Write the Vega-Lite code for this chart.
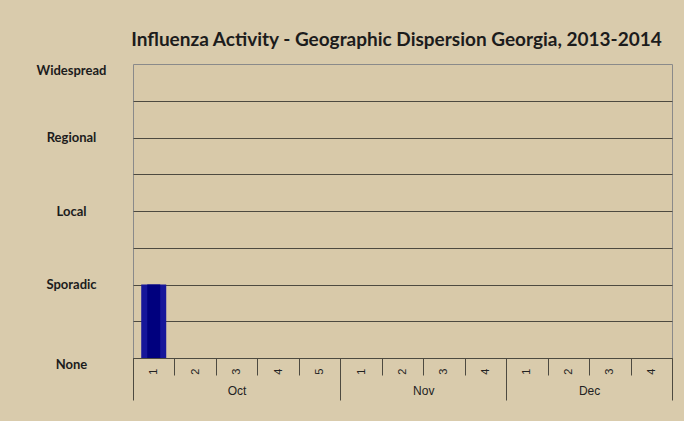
{
  "$schema": "https://vega.github.io/schema/vega-lite/v6.json",
  "width": 539,
  "height": 294,
  "autosize": {"type": "none"},
  "padding": {"left": 133, "top": 64, "right": 12, "bottom": 63},
  "background": "#D9CBAC",
  "config": {"view": {"fill": "#D8C9A9", "stroke": "#8a8a8a", "strokeWidth": 1}},
  "title": {
    "text": "Influenza Activity - Geographic Dispersion Georgia, 2013-2014",
    "font": "Lato", "fontSize": 19, "fontWeight": "bold", "color": "#1c1c1c",
    "anchor": "middle", "offset": 14, "dx": -6
  },
  "data": {"values": [
    {"seq": 1, "month": "Oct", "week": 1, "level": 2},
    {"seq": 2, "month": "Oct", "week": 2, "level": 0},
    {"seq": 3, "month": "Oct", "week": 3, "level": 0},
    {"seq": 4, "month": "Oct", "week": 4, "level": 0},
    {"seq": 5, "month": "Oct", "week": 5, "level": 0},
    {"seq": 6, "month": "Nov", "week": 1, "level": 0},
    {"seq": 7, "month": "Nov", "week": 2, "level": 0},
    {"seq": 8, "month": "Nov", "week": 3, "level": 0},
    {"seq": 9, "month": "Nov", "week": 4, "level": 0},
    {"seq": 10, "month": "Dec", "week": 1, "level": 0},
    {"seq": 11, "month": "Dec", "week": 2, "level": 0},
    {"seq": 12, "month": "Dec", "week": 3, "level": 0},
    {"seq": 13, "month": "Dec", "week": 4, "level": 0}
  ]},
  "encoding": {
    "y": {
      "field": "level", "type": "quantitative",
      "scale": {"domain": [0, 8], "nice": false},
      "axis": {
        "title": null, "values": [0, 1, 2, 3, 4, 5, 6, 7, 8],
        "labelExpr": "datum.value == 0 ? 'None' : datum.value == 2 ? 'Sporadic' : datum.value == 4 ? 'Local' : datum.value == 6 ? 'Regional' : datum.value == 8 ? 'Widespread' : ''",
        "labelAlign": "center", "labelBaseline": "middle", "labelPadding": 62,
        "labelOffset": {"condition": {"test": "datum.value == 0 || datum.value == 8", "value": 6}, "value": 0},
        "labelFont": "Lato", "labelFontSize": 13, "labelFontWeight": "bold", "labelColor": "#1c1c1c",
        "ticks": false, "domain": false,
        "grid": true, "gridColor": "#4d4a40",
        "gridOpacity": {"condition": {"test": "datum.value == 8", "value": 0}, "value": 1}
      }
    }
  },
  "layer": [
    {
      "mark": {"type": "bar", "size": 25, "color": "#16169a"},
      "encoding": {
        "x": {
          "field": "seq", "type": "quantitative",
          "scale": {"domain": [0.5, 13.5], "nice": false, "zero": false, "padding": 0},
          "axis": {
            "orient": "bottom", "title": null,
            "values": [0.5, 1.5, 2.5, 3.5, 4.5, 5.5, 6.5, 7.5, 8.5, 9.5, 10.5, 11.5, 12.5, 13.5],
            "labelExpr": "datum.value < 5 ? datum.value + 0.5 : datum.value < 9 ? datum.value - 4.5 : datum.value < 13 ? datum.value - 8.5 : ''",
            "labelOffset": 20.7, "labelAngle": 270, "labelPadding": -7,
            "labelFont": "Liberation Sans", "labelFontSize": 11, "labelColor": "#222222",
            "tickSize": 17, "tickColor": "#4d4a40", "domain": true, "domainColor": "#4d4a40",
            "grid": false
          }
        }
      }
    },
    {
      "mark": {"type": "bar", "size": 13, "color": "#00007e"},
      "encoding": {
        "x": {
          "field": "seq", "type": "quantitative",
          "axis": {
            "orient": "bottom", "title": null,
            "values": [0.5, 5.5, 9.5, 13.5],
            "labelExpr": "datum.value == 0.5 ? 'Oct' : datum.value == 5.5 ? 'Nov' : datum.value == 9.5 ? 'Dec' : ''",
            "labelOffset": {"condition": {"test": "datum.value == 0.5", "value": 103.6}, "value": 82.9},
            "labelAngle": 0, "labelAlign": "center", "labelBaseline": "top", "labelPadding": -15,
            "labelFont": "Liberation Sans", "labelFontSize": 12, "labelColor": "#222222",
            "tickSize": 42, "tickColor": "#4d4a40", "domain": false, "grid": false
          }
        }
      }
    }
  ],
  "resolve": {"axis": {"x": "independent"}}
}
